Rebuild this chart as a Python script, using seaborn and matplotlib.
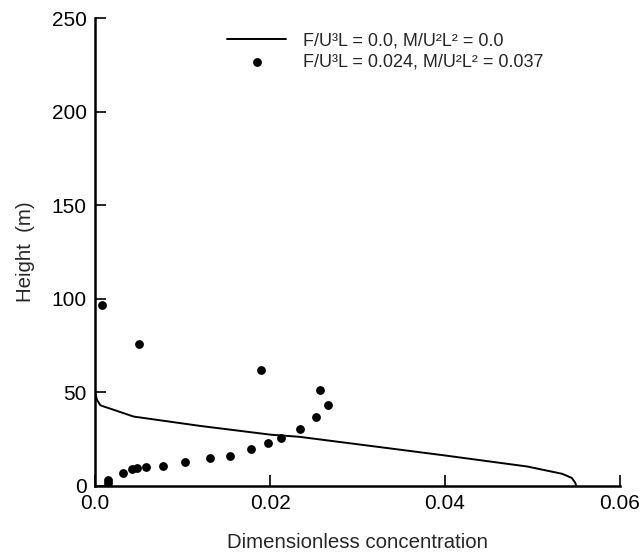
import matplotlib
matplotlib.use("Agg")
import matplotlib.pyplot as plt
import seaborn as sns
import pandas as pd

# profile without buoyancy / momentum (solid line)
line_conc = [0.0, 0.0002, 0.0006, 0.0044, 0.012, 0.0201, 0.0233, 0.032, 0.040, 0.0494, 0.0534, 0.0545, 0.0549, 0.0550]
line_height = [50, 46, 43, 37, 32, 27.3, 26.2, 21, 16.2, 10.3, 6.4, 4.2, 1.6, 0]

# profile with F/U3L = 0.024, M/U2L2 = 0.037 (dots)
dot_conc = [0.0008, 0.0050, 0.0190, 0.0257, 0.0266, 0.0253, 0.0234, 0.0213, 0.0198, 0.0178,
            0.0154, 0.0131, 0.0103, 0.0078, 0.0058, 0.0048, 0.0042, 0.0032, 0.0015, 0.0015]
dot_height = [96.6, 75.9, 61.7, 51.2, 43.1, 36.9, 30.3, 25.5, 22.7, 19.5,
              16.1, 14.9, 12.9, 10.6, 9.9, 9.6, 8.7, 6.6, 3.2, 1.5]

line_label = "F/U³L = 0.0, M/U²L² = 0.0"
dot_label = "F/U³L = 0.024, M/U²L² = 0.037"

sns.set_style("ticks")
plt.rcParams["font.family"] = ["Liberation Sans", "DejaVu Sans"]

df_line = pd.DataFrame({"conc": line_conc, "height": line_height})
df_dots = pd.DataFrame({"conc": dot_conc, "height": dot_height})

fig = plt.figure(figsize=(6.43, 5.52), dpi=100)
ax = fig.add_axes([0.148, 0.12, 0.816, 0.847])

sns.lineplot(data=df_line, x="conc", y="height", sort=False, estimator=None,
             color="black", linewidth=1.4, label=line_label, ax=ax)
sns.scatterplot(data=df_dots, x="conc", y="height", color="black", s=40,
                edgecolor="black", linewidth=0, label=dot_label, ax=ax)

ax.set_xlim(0, 0.06)
ax.set_ylim(0, 250)
ax.set_xticks([0.0, 0.02, 0.04, 0.06])
ax.set_xticklabels(["0.0", "0.02", "0.04", "0.06"])
ax.set_yticks([0, 50, 100, 150, 200, 250])
ax.tick_params(direction="in", length=8, width=1.2, labelsize=15, pad=6, colors="black")

sns.despine(ax=ax)
for side in ["left", "bottom"]:
    ax.spines[side].set_linewidth(1.8)
    ax.spines[side].set_color("black")

ax.set_xlabel("Dimensionless concentration", fontsize=14.7, labelpad=14)
ax.set_ylabel("Height  (m)", fontsize=14.7, labelpad=12)

ax.legend(loc="upper left", bbox_to_anchor=(0.22, 1.005), frameon=False,
          fontsize=13, handlelength=3.3, handletextpad=0.9, labelspacing=0.25,
          markerscale=1.0)

fig.savefig("out.png", dpi=100)
